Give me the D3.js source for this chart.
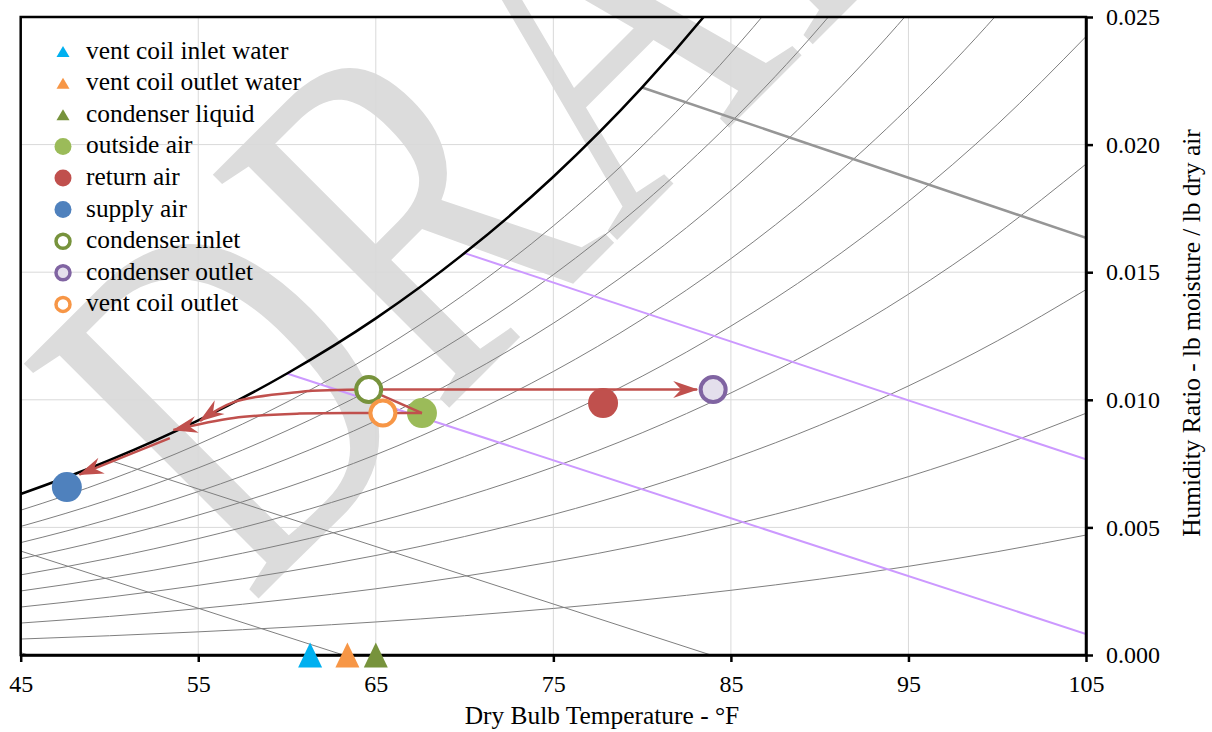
<!DOCTYPE html>
<html lang="en">
<head>
<meta charset="UTF-8">
<title>Psychrometric Chart</title>
<script src="https://cdn.jsdelivr.net/npm/d3@7"></script>
<style>
  body { margin: 0; background: #fff; }
  svg text { font-family: "Liberation Serif", serif; fill: #000; }
  .grid line { stroke: #d9d9d9; stroke-width: 1px; }
  .rh { fill: none; stroke: #7f7f7f; stroke-width: 1px; }
  .sat { fill: none; stroke: #000; stroke-width: 2.5px; }
  .wb { fill: none; stroke: #7f7f7f; stroke-width: 1px; }
  .wb.purple { stroke: #cc99ff; stroke-width: 2px; }
  .wb.thick { stroke: #969696; stroke-width: 2.5px; }
  .process { fill: none; stroke: #c0504d; stroke-width: 2.5px; }
  .axis path, .axis line { stroke: #000; stroke-width: 2.5px; }
  .axis text { font-size: 24px; }
  .frame { fill: none; stroke: #000; stroke-width: 2.5px; }
  .legend text { font-size: 25.4px; }
  .axis-label { font-size: 25.4px; }
  .watermark { fill: #dcdcdc; font-size: 507px; }
</style>
</head>
<body>
<div id="chart"></div>
<script>
// psychrometric table (sea level, 14.696 psia)
const tempTable = [30, 40, 45, 50, 55, 60, 65, 70, 75, 80, 85, 90, 95, 100, 105];
const satPressure = [0.0808, 0.1217, 0.1476, 0.1781, 0.2140, 0.2561, 0.3052, 0.3629, 0.4298, 0.5073, 0.5967, 0.6990, 0.8165, 0.9504, 1.1022];
const rhLevels = [0.1, 0.2, 0.3, 0.4, 0.5, 0.6, 0.7, 0.8, 0.9];
const wetBulbTemps = [30, 40, 50, 60, 70, 80];
const purpleWetBulbs = [60, 70];
const thickWetBulbs = [80];

// state points (dry bulb F, humidity ratio)
const pointNames = ["outside air", "return air", "supply air", "condenser inlet", "condenser outlet", "vent coil outlet"];
const pointTemps = [67.6, 77.8, 47.6, 64.6, 84.0, 65.4];
const pointW = [0.00948, 0.00987, 0.00658, 0.0104, 0.0104, 0.00948];
const pointFill = ["#9bbb59", "#c0504d", "#4f81bd", "#ffffff", "#e4dfec", "#ffffff"];
const pointStroke = [null, null, null, "#77933c", "#8064a2", "#f79646"];

// water temperatures, plotted on the dry bulb axis
const waterNames = ["vent coil inlet water", "vent coil outlet water", "condenser liquid"];
const waterTemps = [61.3, 63.4, 65.0];
const waterColors = ["#00b0f0", "#f79646", "#77933c"];

// process lines
const heatRejection = [[64.6, 0.0104], [83.1, 0.0104]];
const mixToCondenser = [[67.6, 0.00948], [64.6, 0.0104]];
const condenserCooling = [[64.6, 0.0104], [60.7, 0.01031], [57.0, 0.00991], [55.1, 0.00917]];
const ventCooling = [[65.4, 0.00948], [60.7, 0.00946], [57.0, 0.00929], [53.6, 0.00882]];
const mixToVent = [[67.6, 0.00948], [65.4, 0.00948]];
const supplyLeg = [[53.4, 0.0085], [48.3, 0.00707]];

const legendNames = ["vent coil inlet water", "vent coil outlet water", "condenser liquid",
  "outside air", "return air", "supply air", "condenser inlet", "condenser outlet", "vent coil outlet"];

const xTicks = [45, 55, 65, 75, 85, 95, 105];
const yTicks = [0, 0.005, 0.010, 0.015, 0.020, 0.025];

const P = 14.696;
const humRatio = (pws, rh) => 0.622 * rh * pws / (P - rh * pws);

const margin = { top: 17, right: 126, bottom: 77, left: 20.7 },
      width = 1212 - margin.left - margin.right,
      height = 732 - margin.top - margin.bottom;

const x = d3.scaleLinear().domain([45, 105]).range([0, width]);
const y = d3.scaleLinear().domain([0, 0.025]).range([height, 0]);

const root = d3.select("#chart").append("svg")
    .attr("width", 1212)
    .attr("height", 732);

root.append("rect").attr("width", 1212).attr("height", 732).attr("fill", "#fff");

// watermark
root.append("text")
    .attr("class", "watermark")
    .attr("transform", "translate(251,606) rotate(-45) scale(0.73,1)")
    .text("DRAFT");

const svg = root.append("g")
    .attr("transform", "translate(" + margin.left + "," + margin.top + ")");

svg.append("clipPath").attr("id", "plot-clip")
  .append("rect").attr("width", width).attr("height", height);

// grid
const grid = svg.append("g").attr("class", "grid");
grid.selectAll(".vx").data(xTicks.slice(1, -1)).enter().append("line")
    .attr("x1", d => x(d)).attr("x2", d => x(d))
    .attr("y1", 0).attr("y2", height);
grid.selectAll(".hy").data(yTicks.slice(1, -1)).enter().append("line")
    .attr("x1", 0).attr("x2", width)
    .attr("y1", d => y(d)).attr("y2", d => y(d));

const plot = svg.append("g").attr("clip-path", "url(#plot-clip)");

const curve = d3.line()
    .x(d => x(d[0]))
    .y(d => y(d[1]))
    .curve(d3.curveMonotoneX);

const rhTemps = tempTable.filter(t => t >= 40);
const rhPws = satPressure.filter((p, i) => tempTable[i] >= 40);

// relative humidity lines
plot.selectAll(".rh")
    .data(rhLevels)
  .enter().append("path")
    .attr("class", "rh")
    .attr("d", rh => curve(rhTemps.map((t, i) => [t, humRatio(rhPws[i], rh)])));

// wet bulb lines
const wbLine = ts => {
    const ws = humRatio(satPressure[tempTable.indexOf(ts)], 1);
    const a = (1093 - 0.556 * ts) * ws;
    const wAt = t => (a - 0.24 * (t - ts)) / (1093 + 0.444 * t - ts);
    const t0 = ts + a / 0.24;
    const end = t0 < 105 ? [t0, 0] : [105, wAt(105)];
    return [[ts, ws], end];
};
plot.selectAll(".wb")
    .data(wetBulbTemps)
  .enter().append("path")
    .attr("class", d => "wb" + (purpleWetBulbs.includes(d) ? " purple" : "") + (thickWetBulbs.includes(d) ? " thick" : ""))
    .attr("d", d => d3.line().x(p => x(p[0])).y(p => y(p[1]))(wbLine(d)));

// saturation line
plot.append("path")
    .attr("class", "sat")
    .attr("d", curve(rhTemps.map((t, i) => [t, humRatio(rhPws[i], 1)])));

// frame and axes
svg.append("rect").attr("class", "frame").attr("width", width).attr("height", height);

svg.append("g")
    .attr("class", "axis")
    .attr("transform", "translate(0," + height + ")")
    .call(d3.axisBottom(x).tickValues(xTicks).tickSize(7).tickSizeOuter(0).tickPadding(13));

svg.append("g")
    .attr("class", "axis")
    .attr("transform", "translate(" + width + ",0)")
    .call(d3.axisRight(y).tickValues(yTicks).tickFormat(d3.format(".3f")).tickSize(7).tickSizeOuter(0).tickPadding(13));

svg.selectAll(".axis text").attr("fill", "#000");

// axis labels
root.append("text")
    .attr("class", "axis-label")
    .attr("x", 602).attr("y", 724)
    .style("text-anchor", "middle")
    .text("Dry Bulb Temperature - °F");

root.append("text")
    .attr("class", "axis-label")
    .attr("transform", "translate(1200,333) rotate(-90)")
    .style("text-anchor", "middle")
    .text("Humidity Ratio - lb moisture / lb dry air");

// arrowhead
root.append("defs").append("marker")
    .attr("id", "arrow")
    .attr("markerUnits", "userSpaceOnUse")
    .attr("viewBox", "-25 -10 27 20")
    .attr("refX", 0).attr("refY", 0)
    .attr("markerWidth", 27).attr("markerHeight", 20)
    .attr("orient", "auto")
  .append("path")
    .attr("d", "M1,0 L-24,-8.5 L-16,0 L-24,8.5 Z")
    .attr("fill", "#c0504d");

const tri = (w, h) => `M0,${-h / 2}L${w / 2},${h / 2}L${-w / 2},${h / 2}Z`;

// filled state points under the process lines
const pts = pointNames.map((n, i) => ({ name: n, t: pointTemps[i], w: pointW[i], fill: pointFill[i], stroke: pointStroke[i] }));

svg.selectAll(".pt-solid")
    .data(pts.filter(d => !d.stroke))
  .enter().append("circle")
    .attr("cx", d => x(d.t)).attr("cy", d => y(d.w))
    .attr("r", 15)
    .attr("fill", d => d.fill);

const straight = d3.line().x(d => x(d[0])).y(d => y(d[1]));
const smooth = d3.line().x(d => x(d[0])).y(d => y(d[1])).curve(d3.curveCatmullRom);

svg.append("path").attr("class", "process").attr("d", straight(mixToCondenser));
svg.append("path").attr("class", "process").attr("d", straight(mixToVent));
svg.append("path").attr("class", "process").attr("d", straight(heatRejection)).attr("marker-end", "url(#arrow)");
svg.append("path").attr("class", "process").attr("d", smooth(condenserCooling)).attr("marker-end", "url(#arrow)");
svg.append("path").attr("class", "process").attr("d", smooth(ventCooling)).attr("marker-end", "url(#arrow)");
svg.append("path").attr("class", "process").attr("d", straight(supplyLeg)).attr("marker-end", "url(#arrow)");

// hollow state points
svg.selectAll(".pt-ring")
    .data(pts.filter(d => d.stroke))
  .enter().append("circle")
    .attr("cx", d => x(d.t)).attr("cy", d => y(d.w))
    .attr("r", 12.5)
    .attr("fill", d => d.fill)
    .attr("stroke", d => d.stroke)
    .attr("stroke-width", 4);

// water temperatures on the axis
svg.selectAll(".water")
    .data(waterTemps)
  .enter().append("path")
    .attr("transform", d => `translate(${x(d)},${y(0)})`)
    .attr("d", tri(24, 25))
    .attr("fill", (d, i) => waterColors[i]);

// legend
const legend = root.append("g").attr("class", "legend");
const rows = legend.selectAll("g")
    .data(legendNames)
  .enter().append("g")
    .attr("transform", (d, i) => `translate(63,${51.6 + i * 31.6})`);

rows.each(function(name) {
    const g = d3.select(this);
    const wi = waterNames.indexOf(name);
    const p = pts.find(q => q.name === name);
    if (wi >= 0) {
        g.append("path").attr("d", tri(13, 11)).attr("fill", waterColors[wi]);
    } else if (p.stroke) {
        g.append("circle").attr("r", 7).attr("fill", p.fill)
            .attr("stroke", p.stroke).attr("stroke-width", 3.5);
    } else {
        g.append("circle").attr("r", 8.5).attr("fill", p.fill);
    }
    g.append("text").attr("x", 23).attr("y", 7).text(name);
});
</script>
</body>
</html>
